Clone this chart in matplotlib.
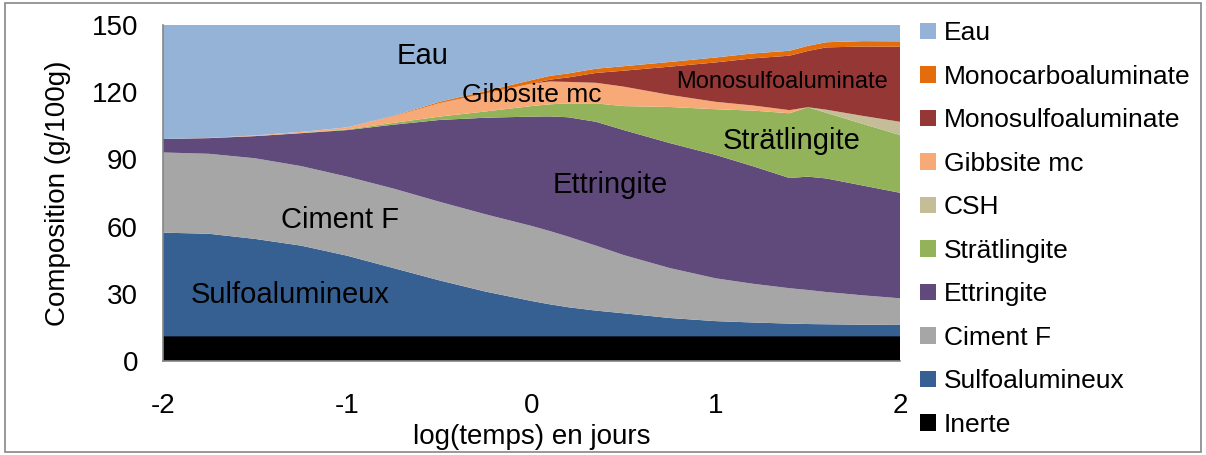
import matplotlib
matplotlib.use('Agg')
import matplotlib.pyplot as plt
from matplotlib.patches import Rectangle, Patch

plt.rcParams['font.family'] = ['Liberation Sans', 'DejaVu Sans']
plt.rcParams['axes.unicode_minus'] = False

# log(temps) en jours
x = [-2, -1.75, -1.5, -1.25, -1, -0.75, -0.5, -0.25, 0, 0.1, 0.2, 0.35,
     0.5, 0.75, 1, 1.2, 1.4, 1.5, 1.6, 1.8, 2]

# compositions (g/100g), bottom to top
inerte = [11] * 21
sulfo = [46.3, 45.8, 43.5, 40.5, 36, 30.5, 25, 20, 15.8, 14.3, 13, 11.5,
         10.3, 8.2, 6.8, 6.2, 5.7, 5.5, 5.4, 5.2, 5.1]
ciment = [35.8, 35.7, 36, 35.5, 35.3, 35.5, 35.1, 34.5, 33.5, 32.7, 31.5, 29,
          26, 22.3, 19.1, 17.3, 15.8, 15.2, 14.4, 13.1, 11.9]
ettringite = [6, 7, 9.9, 14.7, 20.8, 28.5, 36.5, 43.1, 48.8, 51.2, 53.3, 55.3,
              55.8, 55.8, 55.1, 52.5, 49.2, 50.6, 50.7, 49, 47.1]
stratlingite = [0, 0, 0, 0.1, 0.3, 0.8, 1.5, 2.8, 4.7, 5.4, 6.2, 8.2,
                10.7, 16.1, 20.4, 24.8, 28.9, 31, 29.3, 27.5, 25.8]
csh = [0, 0, 0, 0, 0, 0, 0, 0, 0, 0, 0, 0,
       0, 0, 0, 0, 0, 0, 1.4, 3.6, 5.9]
gibbsite = [0, 0.1, 0.3, 0.5, 0.9, 2.9, 6, 8, 10, 10.2, 9.6, 9.2,
            8.7, 5.4, 3.3, 2.3, 1.4, 0, 0, 0, 0]
monosulfo = [0, 0, 0, 0, 0, 0, 0, 0, 0, 0.8, 2.0, 4.4,
             7.1, 12.6, 17.6, 21, 24.3, 25.1, 27.8, 31, 33.5]
monocarbo = [0, 0, 0, 0, 0, 0.2, 0.6, 1.1, 1.6, 1.7, 1.8, 1.9,
             2.0, 2.1, 2.2, 2.2, 2.2, 2.3, 2.3, 2.4, 2.4]
eau = [50.9, 50.4, 49.3, 47.7, 45.7, 40.6, 34.3, 29.5, 24.6, 22.7, 21.6, 19.5,
       18.4, 16.5, 14.5, 12.7, 11.5, 9.3, 7.7, 7.2, 7.3]

labels = ['Inerte', 'Sulfoalumineux', 'Ciment F', 'Ettringite', 'Strätlingite',
          'CSH', 'Gibbsite mc', 'Monosulfoaluminate', 'Monocarboaluminate', 'Eau']
colors = ['#000000', '#376092', '#A6A6A6', '#604A7B', '#93B35A',
          '#C4BD97', '#F7AA78', '#953735', '#E46C0A', '#95B3D7']

fig = plt.figure(figsize=(12.06, 4.55), dpi=100)
ax = fig.add_axes([163 / 1206, 1 - 361 / 455, 737 / 1206, 336 / 455])

ax.stackplot(x, inerte, sulfo, ciment, ettringite, stratlingite, csh,
             gibbsite, monosulfo, monocarbo, eau, colors=colors, linewidth=0)

ax.set_xlim(-2, 2)
ax.set_ylim(0, 150)
ax.set_xticks([-2, -1, 0, 1, 2])
ax.set_yticks([0, 30, 60, 90, 120, 150])
ax.tick_params(axis='x', length=0, labelsize=20, pad=23)
ax.tick_params(axis='y', length=0, labelsize=20, pad=18)
for s in ['top', 'right']:
    ax.spines[s].set_visible(False)
for s in ['left', 'bottom']:
    ax.spines[s].set_color('#868686')
    ax.spines[s].set_linewidth(1.2)

ax.set_xlabel('log(temps) en jours', fontsize=20, labelpad=4)
ax.set_ylabel('Composition (g/100g)', fontsize=20, labelpad=15)

# labels inside the areas
ax.text(-0.59, 136.2, 'Eau', fontsize=21, ha='center', va='center')
ax.text(0.0, 118.8, 'Gibbsite mc', fontsize=19, ha='center', va='center')
ax.text(1.36, 124.5, 'Monosulfoaluminate', fontsize=17, ha='center', va='center')
ax.text(1.41, 98.2, 'Strätlingite', fontsize=21, ha='center', va='center')
ax.text(0.43, 78.6, 'Ettringite', fontsize=21, ha='center', va='center')
ax.text(-1.04, 63, 'Ciment F', fontsize=21, ha='center', va='center')
ax.text(-1.31, 29.5, 'Sulfoalumineux', fontsize=21, ha='center', va='center')

handles = [Patch(facecolor=c, edgecolor='none') for c in colors][::-1]
fig.legend(handles, labels[::-1], loc='upper left',
           bbox_to_anchor=(907 / 1206, 1 - 8 / 455), frameon=False,
           fontsize=19, handlelength=0.6, handleheight=0.6, handletextpad=0.3,
           labelspacing=0.74, borderpad=0)

fig.patches.append(Rectangle((5 / 1206, 3 / 455), 1196 / 1206, 449 / 455,
                             transform=fig.transFigure, fill=False,
                             edgecolor='#868686', linewidth=1.2))

fig.savefig('out.png', dpi=100)
